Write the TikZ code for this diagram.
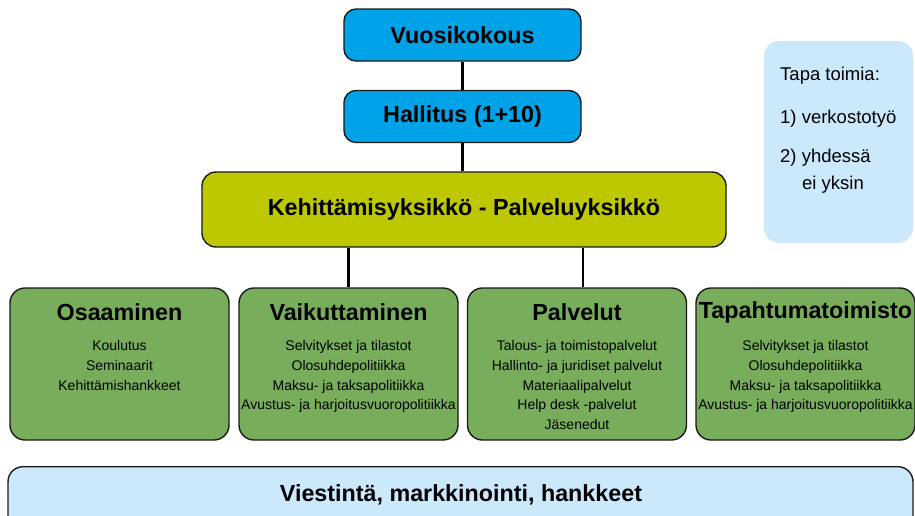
\documentclass[tikz,border=0pt]{standalone}
\usepackage{fontspec}
\setmainfont{Liberation Sans}
\definecolor{topblue}{RGB}{0,162,232}
\definecolor{kehgreen}{RGB}{190,200,0}
\definecolor{boxgreen}{RGB}{120,173,92}
\definecolor{lightblue}{RGB}{204,232,251}
\definecolor{edge}{RGB}{26,26,26}
\tikzset{
  topbox/.style={draw=edge, line width=1.4pt, fill=topblue, rounded corners=12pt, minimum width=237pt, minimum height=52pt, inner sep=0pt, font=\bfseries\fontsize{23.3}{27}\selectfont},
  kehbox/.style={draw=edge, line width=1.4pt, fill=kehgreen, rounded corners=14pt, minimum width=524pt, minimum height=75pt, inner sep=0pt, font=\bfseries\fontsize{23.3}{27}\selectfont},
  unitbox/.style={draw=edge, line width=1.4pt, fill=boxgreen, rounded corners=15pt, minimum width=219pt, minimum height=152pt, inner sep=0pt},
  unittitle/.style={inner sep=0pt, font=\bfseries\fontsize{23.3}{27}\selectfont},
  unitbody/.style={inner sep=0pt, align=center, anchor=north, font=\fontsize{14}{19.6}\selectfont},
  sidetext/.style={inner sep=0pt, anchor=west, font=\fontsize{18.5}{22}\selectfont},
  conn/.style={line width=2.2pt, draw=black}
}
\begin{document}
\begin{tikzpicture}[x=1pt,y=-1pt]
\useasboundingbox (0,0) rectangle (915,515);
% top boxes
\node[topbox] (vuosi) at (462.5,35) {Vuosikokous};
\node[topbox] (hall) at (462.5,116.5) {Hallitus (1+10)};
\node[kehbox] (keh) at (464,209.5) {Kehittämisyksikkö - Palveluyksikkö};
% side box
\node[fill=lightblue, rounded corners=15pt, minimum width=149pt, minimum height=202pt, inner sep=0pt] (side) at (838.5,142) {};
\node[sidetext] (s1) at (780,76) {Tapa toimia:};
\node[sidetext] (s2) at (780,119) {1) verkostotyö};
\node[sidetext] (s3) at (780,158) {2) yhdessä};
\node[sidetext] (s4) at (802,185) {ei yksin};
% unit boxes
\node[unitbox] (osa) at (119.5,364) {};
\node[unitbox] (vaik) at (348.5,364) {};
\node[unitbox] (palv) at (577,364) {};
\node[unitbox] (tapa) at (805.5,364) {};
\node[unittitle] (osat) at (119.5,312) {Osaaminen};
\node[unittitle] (vaikt) at (348.5,312) {Vaikuttaminen};
\node[unittitle] (palvt) at (577,312) {Palvelut};
\node[unittitle] (tapat) at (805.5,312) {Tapahtumatoimisto};
\node[unitbody] (osab) at (119.5,340.5) {Koulutus\\Seminaarit\\Kehittämishankkeet};
\node[unitbody] (vaikb) at (348.5,340.5) {Selvitykset ja tilastot\\Olosuhdepolitiikka\\Maksu- ja taksapolitiikka\\Avustus- ja harjoitusvuoropolitiikka};
\node[unitbody] (palvb) at (577,340.5) {Talous- ja toimistopalvelut\\Hallinto- ja juridiset palvelut\\Materiaalipalvelut\\Help desk -palvelut\\Jäsenedut};
\node[unitbody] (tapab) at (805.5,340.5) {Selvitykset ja tilastot\\Olosuhdepolitiikka\\Maksu- ja taksapolitiikka\\Avustus- ja harjoitusvuoropolitiikka};
% bottom bar
\node[draw=edge, line width=1.4pt, fill=lightblue, rounded corners=15pt, minimum width=905pt, minimum height=70pt, inner sep=0pt, anchor=north] (bar) at (460.5,466) {};
\node[inner sep=0pt, font=\bfseries\fontsize{23.3}{27}\selectfont] (bart) at (461,495) {Viestintä, markkinointi, hankkeet};
% connectors
\draw[conn] (vuosi.south) -- (hall.north);
\draw[conn] (hall.south) -- (hall.south |- keh.north);
\draw[conn] (keh.south -| vaik.north) -- (vaik.north);
\draw[conn] ([xshift=6pt]keh.south -| palv.north) -- ([xshift=6pt]palv.north);
\end{tikzpicture}
\end{document}
